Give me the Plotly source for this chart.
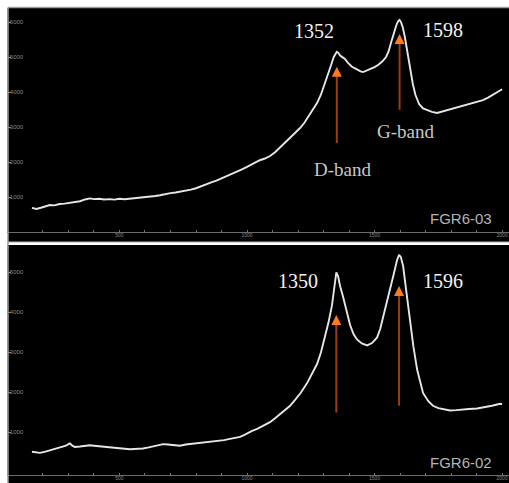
import plotly.graph_objects as go

# ---------------- data ----------------
# FGR6-03 (top panel)
w_top = [157, 175, 195, 215, 227, 245, 265, 285, 305, 325, 345, 365, 384, 400, 420, 440,
         463, 480, 500, 520, 541, 560, 580, 600, 620, 640, 659, 680, 700, 720, 740, 760,
         780, 800, 816, 840, 860, 880, 900, 920, 940, 960, 980, 1000, 1012, 1030, 1050,
         1070, 1090, 1110, 1130, 1150, 1170, 1190, 1208, 1225, 1240, 1255, 1275, 1290,
         1305, 1320, 1330, 1340, 1347, 1352, 1358, 1365, 1375, 1383, 1395, 1410, 1422,
         1435, 1445, 1455, 1465, 1480, 1500, 1515, 1530, 1545, 1555, 1565, 1575, 1585,
         1592, 1598, 1604, 1610, 1618, 1628, 1638, 1650, 1660, 1675, 1690, 1706, 1725,
         1745, 1765, 1785, 1805, 1824, 1845, 1865, 1885, 1905, 1925, 1945, 1960, 1975,
         1992, 2000]
i_top = [690, 660, 700, 740, 770, 760, 800, 810, 830, 850, 880, 930, 960, 940, 950, 930,
         940, 925, 950, 935, 950, 960, 980, 990, 1000, 1030, 1050, 1090, 1110, 1130, 1150,
         1180, 1210, 1250, 1300, 1360, 1420, 1470, 1530, 1590, 1660, 1730, 1790, 1860,
         1910, 1990, 2050, 2100, 2170, 2280, 2420, 2550, 2700, 2830, 2970, 3120, 3280,
         3440, 3690, 3930, 4230, 4560, 4780, 5000, 5110, 5150, 5120, 5040, 4990, 4950,
         4840, 4730, 4680, 4620, 4590, 4570, 4600, 4640, 4710, 4780, 4870, 5000, 5160,
         5420, 5700, 5900, 6020, 6060, 5990, 5860, 5600, 5150, 4710, 4230, 3920, 3650,
         3530, 3480, 3430, 3400, 3440, 3480, 3510, 3560, 3600, 3650, 3680, 3720, 3770,
         3840, 3900, 3970, 4050, 4080]

# FGR6-02 (bottom panel)
w_bot = [157, 170, 188, 210, 235, 255, 270, 290, 300, 306, 315, 325, 345, 365, 384, 400,
         425, 445, 463, 485, 510, 541, 565, 592, 615, 640, 671, 690, 710, 737, 760, 790,
         816, 840, 867, 890, 910, 933, 950, 973, 990, 1004, 1020, 1040, 1060, 1090, 1110,
         1130, 1150, 1169, 1190, 1210, 1235, 1255, 1275, 1290, 1306, 1320, 1333, 1342,
         1350, 1357, 1365, 1376, 1390, 1404, 1418, 1431, 1450, 1471, 1490, 1510, 1522,
         1533, 1547, 1561, 1575, 1588, 1596, 1603, 1612, 1625, 1639, 1652, 1667, 1680,
         1690, 1710, 1729, 1750, 1775, 1796, 1820, 1845, 1870, 1902, 1930, 1960, 1992, 2000]
i_bot = [510, 490, 480, 510, 560, 600, 620, 660, 700, 720, 660, 630, 640, 660, 670, 660,
         640, 630, 610, 600, 590, 570, 580, 590, 620, 660, 700, 690, 670, 660, 690, 710,
         740, 750, 760, 790, 800, 830, 850, 880, 930, 980, 1030, 1080, 1150, 1250, 1350,
         1450, 1550, 1660, 1820, 1980, 2220, 2450, 2710, 3000, 3370, 3760, 4170, 4650,
         5000, 4900, 4650, 4400, 4000, 3680, 3450, 3320, 3220, 3170, 3230, 3370, 3580,
         3850, 4200, 4590, 4950, 5300, 5440, 5380, 5150, 4500, 3780, 3150, 2560, 2200,
         1980, 1780, 1660, 1600, 1560, 1540, 1550, 1570, 1580, 1590, 1620, 1660, 1710, 1700]

x_ticks = [500, 1000, 1500, 2000]
y_ticks_top = [1000, 2000, 3000, 4000, 5000, 6000]
y_ticks_bot = [1000, 2000, 3000, 4000, 5000]

# peak labels and arrows: (wavenumber, arrow base, arrow tip)
peaks_top = [1352, 1598]
arrow_top = [(2540, 4720), (3490, 5660)]
peaks_bot = [1350, 1596]
arrow_bot = [(1490, 3930), (1660, 4660)]

W, H = 509, 483
def px(xp):
    return xp / W
def py(yp):
    return (H - yp) / H

fig = go.Figure()
fig.add_trace(go.Scatter(x=w_top, y=i_top, mode="lines", xaxis="x", yaxis="y",
                         line=dict(color="#e6e6e6", width=1.9), showlegend=False))
fig.add_trace(go.Scatter(x=w_bot, y=i_bot, mode="lines", xaxis="x2", yaxis="y2",
                         line=dict(color="#e6e6e6", width=1.9), showlegend=False))

tickfont = dict(family="Liberation Sans", size=5, color="#8a8a8a")
xcommon = dict(range=[63, 2027], domain=[px(8), 1], tickvals=x_ticks, ticks="inside",
               ticklen=2, tickcolor="#777", showgrid=False, zeroline=False,
               showline=True, linecolor="#6a6a6a", linewidth=1, tickfont=tickfont,
               minor=dict(dtick=100, ticks="inside", ticklen=2, tickcolor="#777"),
               automargin=False, ticklabelstandoff=-2, fixedrange=True)
ycommon = dict(ticks="inside", ticklen=3, tickcolor="#888", ticklabelposition="inside",
               showgrid=False, zeroline=False, showline=True, linecolor="#8a8a8a",
               linewidth=1, tickfont=dict(family="Liberation Sans", size=6, color="#8a8a8a"),
               automargin=False, ticklabelstandoff=-3, fixedrange=True)

fig.update_layout(
    width=W, height=H, autosize=False,
    margin=dict(l=0, r=0, t=0, b=0, pad=0),
    paper_bgcolor="white", plot_bgcolor="black",
    xaxis=dict(anchor="y", **xcommon),
    yaxis=dict(anchor="x", domain=[py(232), py(8)], range=[0, 6400],
               tickvals=y_ticks_top, **ycommon),
    xaxis2=dict(anchor="y2", **xcommon),
    yaxis2=dict(anchor="x2", domain=[py(475), py(245)], range=[-73, 5683],
                tickvals=y_ticks_bot, **ycommon),
)

shapes = [
    dict(type="rect", xref="paper", yref="paper", x0=px(8), x1=1, y0=py(242), y1=py(8),
         fillcolor="black", line=dict(width=0), layer="below"),
    dict(type="rect", xref="paper", yref="paper", x0=px(8), x1=1, y0=0, y1=py(245),
         fillcolor="black", line=dict(width=0), layer="below"),
    dict(type="line", xref="paper", yref="paper", x0=px(8), x1=1, y0=py(7.5), y1=py(7.5),
         line=dict(color="#9a9a9a", width=1.5)),
    dict(type="line", xref="paper", yref="paper", x0=px(8), x1=1, y0=py(242), y1=py(242),
         line=dict(color="#b0b0b0", width=1)),
    dict(type="line", xref="paper", yref="paper", x0=px(8), x1=px(8), y0=0, y1=py(7.5),
         line=dict(color="#9a9a9a", width=1.5)),
]
annots = []
for (wv, (b, t)) in zip(peaks_top, arrow_top):
    shapes.append(dict(type="line", xref="x", yref="y", x0=wv, x1=wv, y0=b, y1=t - 150,
                       line=dict(color="#9c3c10", width=2)))
    annots.append(dict(xref="x", yref="y", x=wv, y=t, ax=0, ay=7, text="", showarrow=True,
                       arrowhead=2, arrowsize=1, arrowwidth=2, arrowcolor="#ff7a1a"))
for (wv, (b, t)) in zip(peaks_bot, arrow_bot):
    shapes.append(dict(type="line", xref="x2", yref="y2", x0=wv, x1=wv, y0=b, y1=t - 150,
                       line=dict(color="#9c3c10", width=2)))
    annots.append(dict(xref="x2", yref="y2", x=wv, y=t, ax=0, ay=7, text="", showarrow=True,
                       arrowhead=2, arrowsize=1, arrowwidth=2, arrowcolor="#ff7a1a"))

serif_big = dict(family="Liberation Serif", size=20, color="#f2f2f2")
serif_mid = dict(family="Liberation Serif", size=19, color="#c8c8c8")
sans_lab = dict(family="Liberation Sans", size=15, color="#b4b4b4")

def label(xp, yp, text, font):
    return dict(xref="paper", yref="paper", x=px(xp), y=py(yp), text=text,
                xanchor="center", yanchor="middle", showarrow=False, font=font)

annots += [
    label(314, 31, str(peaks_top[0]), serif_big),
    label(443, 30, str(peaks_top[1]), serif_big),
    label(405, 131, "G-band", serif_mid),
    label(342, 169, "D-band", serif_mid),
    label(298, 281, str(peaks_bot[0]), serif_big),
    label(443, 281, str(peaks_bot[1]), serif_big),
    label(461, 218, "FGR6-03", sans_lab),
    label(461, 462, "FGR6-02", sans_lab),
]
fig.update_layout(shapes=shapes, annotations=annots)

fig.write_html("out.html", config={"displayModeBar": False},
               post_script="document.body.style.margin='0px';document.body.style.overflow='hidden';")
